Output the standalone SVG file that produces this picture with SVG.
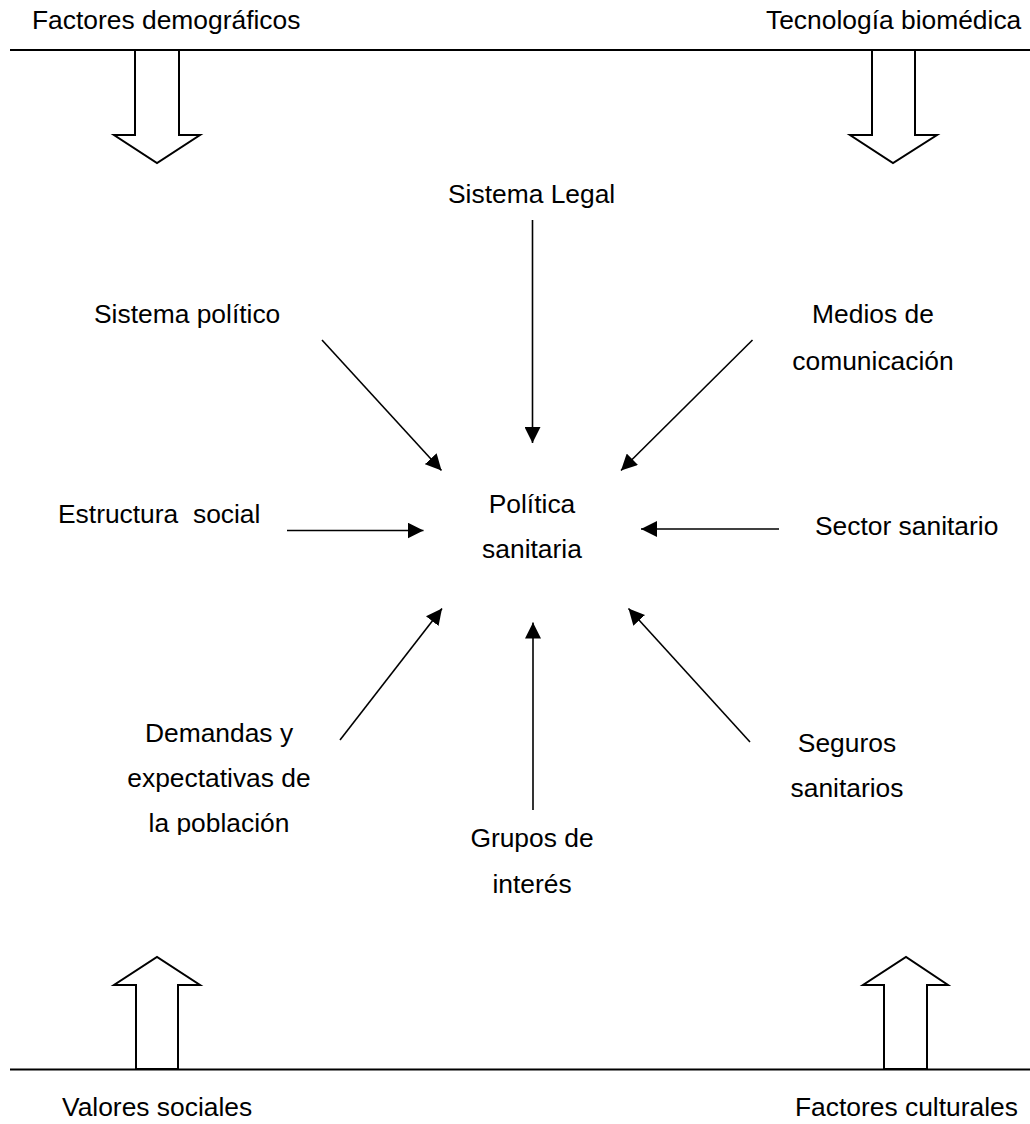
<svg xmlns="http://www.w3.org/2000/svg" width="1030" height="1124" viewBox="0 0 1030 1124">
<style>
text{font-family:"Liberation Sans",Arial,sans-serif;font-size:26.4px;fill:#000}
.rule{stroke:#000;stroke-width:2;fill:none}
.block{stroke:#000;stroke-width:2;fill:#fff;stroke-linejoin:miter}
.conn{stroke:#000;stroke-width:1.6;fill:none;marker-end:url(#ah)}
</style>
<defs>
<marker id="ah" markerUnits="userSpaceOnUse" markerWidth="16" markerHeight="16" viewBox="0 0 16 16" refX="16" refY="8" orient="auto">
<path d="M0,0 L16,8 L0,16 Z" fill="#000"/>
</marker>
<clipPath id="clipPob"><rect x="0" y="800" width="400" height="35"/></clipPath>
</defs>
<rect width="1030" height="1124" fill="#fff"/>
<g id="frame">
<line class="rule" x1="10" y1="50" x2="1030" y2="50"/>
<line class="rule" x1="10" y1="1069.5" x2="1030" y2="1069.5"/>
</g>
<g id="factores-demograficos">
<text x="32" y="29">Factores demográficos</text>
<polygon class="block" points="135,50 135,135 114,135 157,163 200,135 179,135 179,50"/>
</g>
<g id="tecnologia-biomedica">
<text x="766" y="29">Tecnología biomédica</text>
<polygon class="block" points="872,50 872,135 850,135 893,163 937,135 915,135 915,50"/>
</g>
<g id="valores-sociales">
<polygon class="block" points="136,1069 136,985 114,985 157,957 200,985 178,985 178,1069"/>
<text x="62" y="1116">Valores sociales</text>
</g>
<g id="factores-culturales">
<polygon class="block" points="884,1069 884,985 863,985 906,957 948,985 927,985 927,1069"/>
<text x="795" y="1116">Factores culturales</text>
</g>
<g id="politica-sanitaria">
<text x="532" y="513" text-anchor="middle">Política</text>
<text x="532" y="558" text-anchor="middle">sanitaria</text>
</g>
<g id="sistema-legal"><text x="448" y="203">Sistema Legal</text></g>
<g id="sistema-politico"><text x="94" y="323">Sistema político</text></g>
<g id="medios-comunicacion">
<text x="873" y="323" text-anchor="middle">Medios de</text>
<text x="873" y="370" text-anchor="middle">comunicación</text>
</g>
<g id="estructura-social"><text x="58" y="523" xml:space="preserve">Estructura  social</text></g>
<g id="sector-sanitario"><text x="815" y="535">Sector sanitario</text></g>
<g id="demandas">
<text x="219" y="742" text-anchor="middle">Demandas y</text>
<text x="219" y="787" text-anchor="middle">expectativas de</text>
<text x="219" y="832" text-anchor="middle" clip-path="url(#clipPob)">la población</text>
</g>
<g id="grupos-interes">
<text x="532" y="847" text-anchor="middle">Grupos de</text>
<text x="532" y="893" text-anchor="middle">interés</text>
</g>
<g id="seguros-sanitarios">
<text x="847" y="752" text-anchor="middle">Seguros</text>
<text x="847" y="797" text-anchor="middle">sanitarios</text>
</g>
<g id="connectors">
<line class="conn" x1="532.5" y1="220" x2="532.5" y2="443"/>
<line class="conn" x1="322" y1="340" x2="441.5" y2="470.5"/>
<line class="conn" x1="752.5" y1="340" x2="621" y2="470.5"/>
<line class="conn" x1="287" y1="530.5" x2="423.5" y2="530.5"/>
<line class="conn" x1="779" y1="529" x2="641" y2="529"/>
<line class="conn" x1="340" y1="740" x2="442" y2="608.5"/>
<line class="conn" x1="533" y1="810" x2="533" y2="622.5"/>
<line class="conn" x1="750" y1="742" x2="628.5" y2="608.5"/>
</g>
</svg>
